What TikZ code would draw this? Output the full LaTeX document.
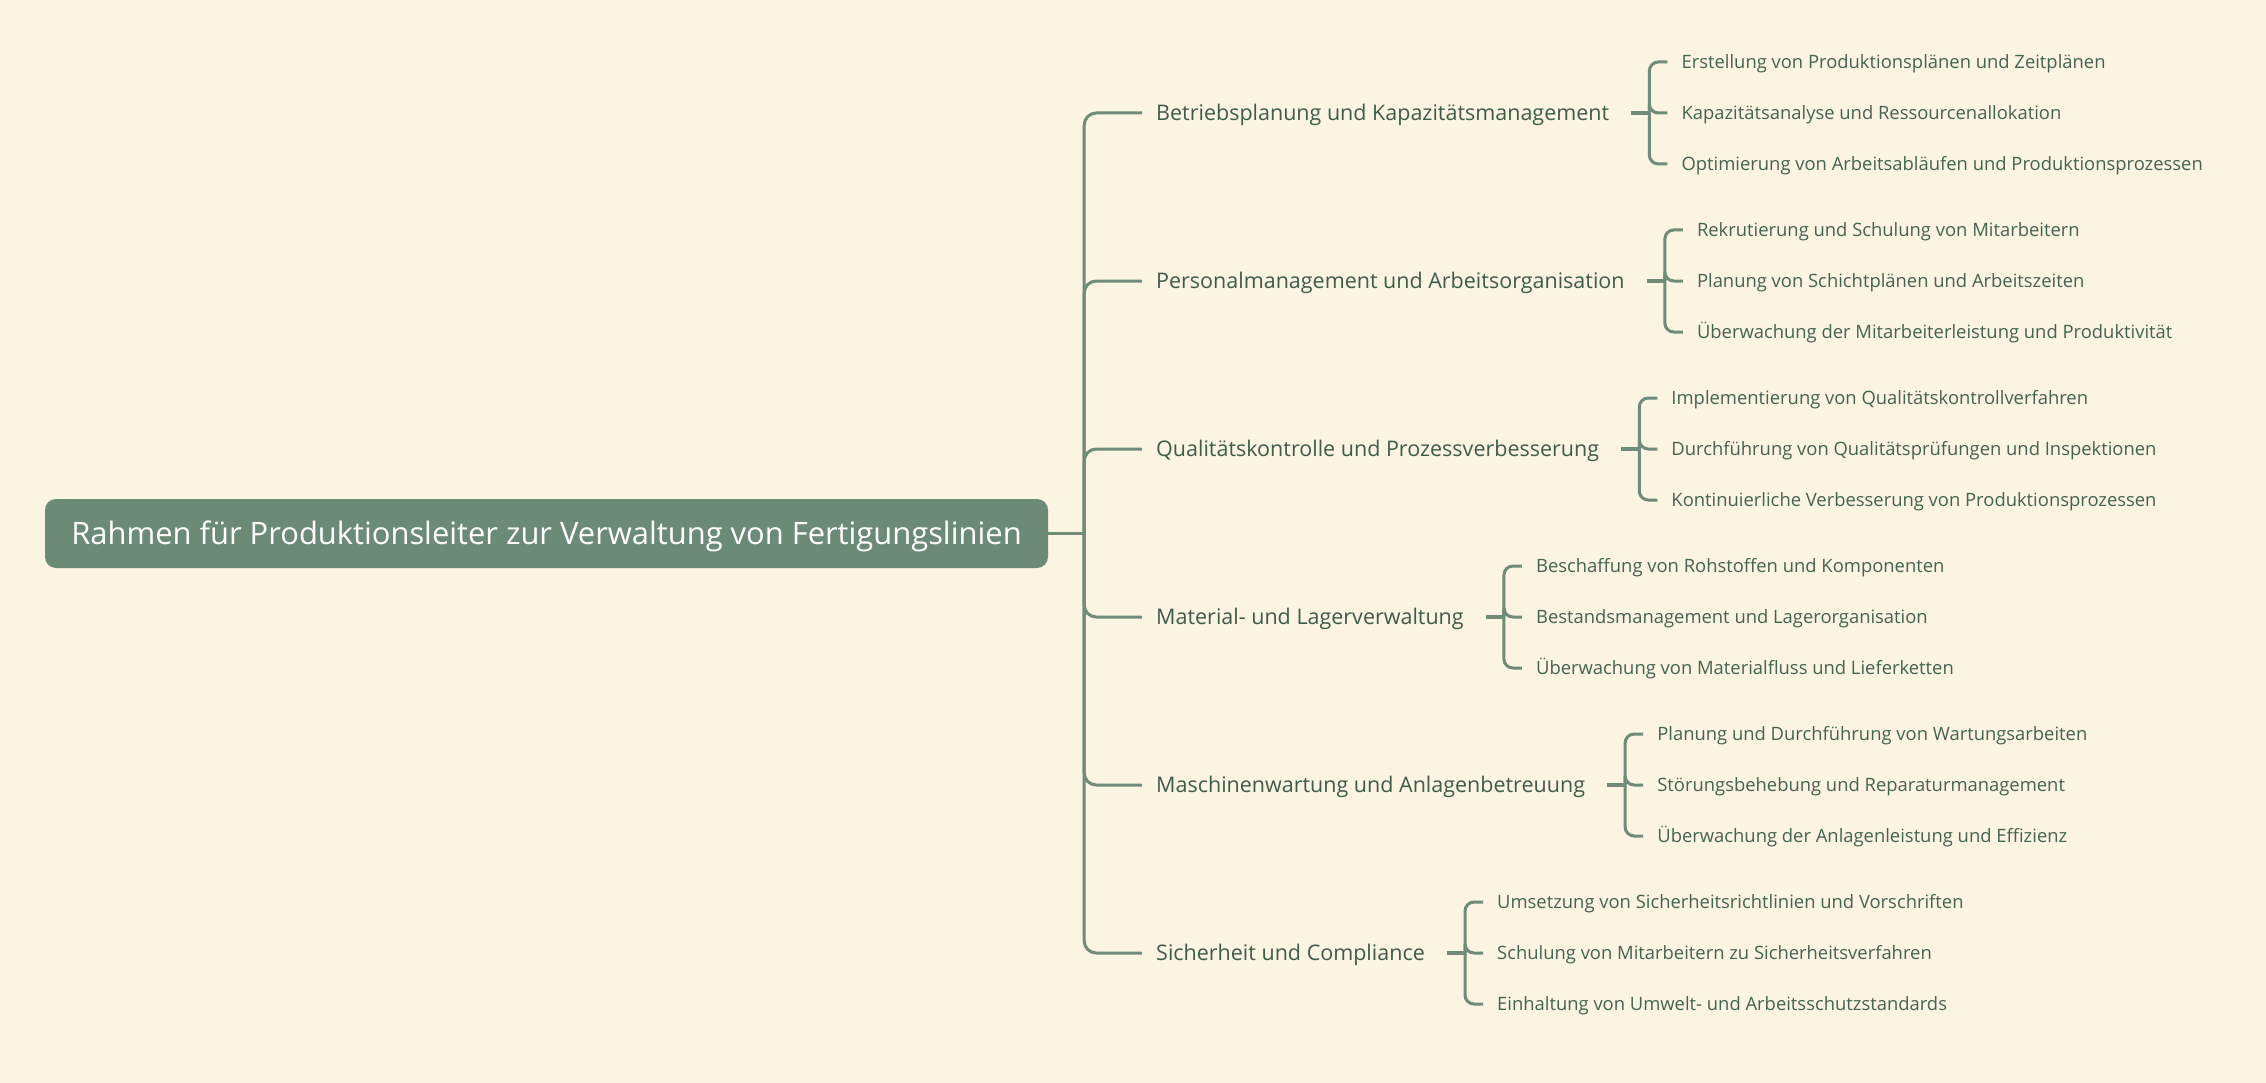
\documentclass[tikz,border=0pt]{standalone}
\usepackage{fontspec}
\setmainfont{Open Sans}
\definecolor{bg}{HTML}{FAF4E0}
\definecolor{rootfill}{HTML}{6C8B77}
\definecolor{linec}{HTML}{6E8C78}
\definecolor{txtone}{HTML}{3F5C4A}
\definecolor{txttwo}{HTML}{466351}
\tikzset{
  rootbox/.style={draw=none, fill=rootfill, rounded corners=11pt, minimum width=1003pt, minimum height=69pt, inner sep=0pt, text=white, text height=22pt, text depth=0pt, font=\fontsize{30.9}{35}\selectfont},
  lvlone/.style={anchor=west, inner sep=0pt, text=txtone, text height=19pt, text depth=3.6pt, font=\fontsize{21.5}{25}\selectfont},
  lvltwo/.style={anchor=west, inner sep=0pt, text=txttwo, text height=17pt, text depth=3.8pt, font=\fontsize{18.4}{22}\selectfont},
  conn/.style={draw=linec, line width=3pt, rounded corners=12pt},
  bconn/.style={draw=linec, line width=3pt, rounded corners=9pt},
  stem/.style={draw=linec, line width=3.6pt},
}
\begin{document}
\begin{tikzpicture}[x=1pt, y=-1pt]
\fill[bg] (0,0) rectangle (2266,1083);
\useasboundingbox (0,0) rectangle (2266,1083);

\node[rootbox] (root) at (546.5,533.5) {Rahmen für Produktionsleiter zur Verwaltung von Fertigungslinien};
\draw[stem] (root.east) -- ++(36,0) coordinate (j);

% level 1
\node[lvlone] (b1) at (1156,113) {Betriebsplanung und Kapazitätsmanagement};
\node[lvlone] (b2) at (1156,281) {Personalmanagement und Arbeitsorganisation};
\node[lvlone] (b3) at (1156,449) {Qualitätskontrolle und Prozessverbesserung};
\node[lvlone] (b4) at (1156,617) {Material- und Lagerverwaltung};
\node[lvlone] (b5) at (1156,785) {Maschinenwartung und Anlagenbetreuung};
\node[lvlone] (b6) at (1156,953) {Sicherheit und Compliance};

\foreach \i in {1,...,6}{
  \draw[conn] (j) |- ([xshift=-14pt]b\i.west);
  \draw[stem] ([xshift=22pt]b\i.east) -- ++(18,0) coordinate (k\i);
}

% level 2
\path (k1) ++(32,-51) node[lvltwo] (c1a) {Erstellung von Produktionsplänen und Zeitplänen};
\path (k1) ++(32,0) node[lvltwo] (c1b) {Kapazitätsanalyse und Ressourcenallokation};
\path (k1) ++(32,51) node[lvltwo] (c1c) {Optimierung von Arbeitsabläufen und Produktionsprozessen};

\path (k2) ++(32,-51) node[lvltwo] (c2a) {Rekrutierung und Schulung von Mitarbeitern};
\path (k2) ++(32,0) node[lvltwo] (c2b) {Planung von Schichtplänen und Arbeitszeiten};
\path (k2) ++(32,51) node[lvltwo] (c2c) {Überwachung der Mitarbeiterleistung und Produktivität};

\path (k3) ++(32,-51) node[lvltwo] (c3a) {Implementierung von Qualitätskontrollverfahren};
\path (k3) ++(32,0) node[lvltwo] (c3b) {Durchführung von Qualitätsprüfungen und Inspektionen};
\path (k3) ++(32,51) node[lvltwo] (c3c) {Kontinuierliche Verbesserung von Produktionsprozessen};

\path (k4) ++(32,-51) node[lvltwo] (c4a) {Beschaffung von Rohstoffen und Komponenten};
\path (k4) ++(32,0) node[lvltwo] (c4b) {Bestandsmanagement und Lagerorganisation};
\path (k4) ++(32,51) node[lvltwo] (c4c) {Überwachung von Materialfluss und Lieferketten};

\path (k5) ++(32,-51) node[lvltwo] (c5a) {Planung und Durchführung von Wartungsarbeiten};
\path (k5) ++(32,0) node[lvltwo] (c5b) {Störungsbehebung und Reparaturmanagement};
\path (k5) ++(32,51) node[lvltwo] (c5c) {Überwachung der Anlagenleistung und Effizienz};

\path (k6) ++(32,-51) node[lvltwo] (c6a) {Umsetzung von Sicherheitsrichtlinien und Vorschriften};
\path (k6) ++(32,0) node[lvltwo] (c6b) {Schulung von Mitarbeitern zu Sicherheitsverfahren};
\path (k6) ++(32,51) node[lvltwo] (c6c) {Einhaltung von Umwelt- und Arbeitsschutzstandards};

\foreach \i in {1,...,6}{
  \foreach \s in {a,b,c}{
    \draw[bconn] (k\i) |- ([xshift=-14pt]c\i\s.west);
  }
}
\end{tikzpicture}
\end{document}
